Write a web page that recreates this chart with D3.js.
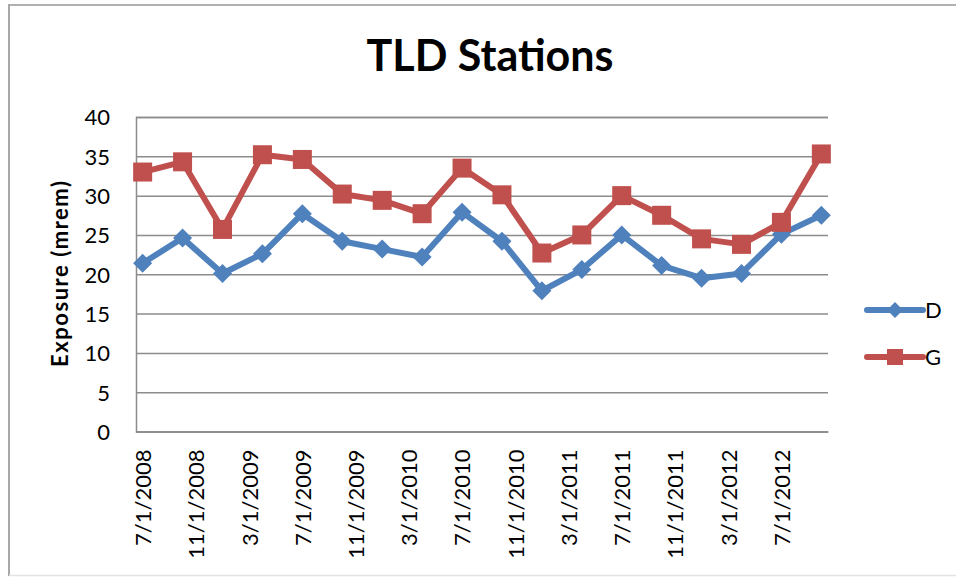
<!DOCTYPE html>
<html>
<head>
<meta charset="utf-8">
<script src="https://cdn.jsdelivr.net/npm/d3@7"></script>
<style>
  html, body { margin: 0; padding: 0; background: #fff; }
  svg { display: block; }
  text { font-family: Lato, "Open Sans", sans-serif; }
</style>
</head>
<body>
<svg id="chart" width="956" height="577"></svg>
<script>
// ---- data ----
const dates = ["7/1/2008","10/1/2008","1/1/2009","4/1/2009","7/1/2009","10/1/2009",
  "1/1/2010","4/1/2010","7/1/2010","10/1/2010","1/1/2011","4/1/2011",
  "7/1/2011","10/1/2011","1/1/2012","4/1/2012","7/1/2012","10/1/2012"];
const seriesD = [21.4,24.6,20.1,22.6,27.7,24.2,23.2,22.2,27.9,24.2,17.9,20.6,25.0,21.1,19.5,20.1,25.1,27.5];
const seriesG = [33.0,34.3,25.7,35.2,34.6,30.2,29.4,27.7,33.5,30.1,22.7,25.0,30.0,27.5,24.5,23.8,26.6,35.3];
const xTickLabels = ["7/1/2008","11/1/2008","3/1/2009","7/1/2009","11/1/2009","3/1/2010",
  "7/1/2010","11/1/2010","3/1/2011","7/1/2011","11/1/2011","3/1/2012","7/1/2012"];
const yTicks = [0,5,10,15,20,25,30,35,40];
const seriesNames = ["D","G"];
const title = "TLD Stations";
const yTitle = "Exposure (mrem)";

// ---- layout ----
const svg = d3.select("#chart");
const plot = {left: 136, right: 828, top: 117, bottom: 431.5};
const colors = {D: "#4F81BD", G: "#C0504D"};

const parse = d3.timeParse("%-m/%-d/%Y");
const start = parse(dates[0]);
const monthIndex = d => d3.timeMonth.count(start, parse(d));
const lastIdx = monthIndex(dates[dates.length - 1]);

const x = d3.scaleLinear().domain([-0.5, lastIdx + 0.5]).range([plot.left, plot.right]);
const y = d3.scaleLinear().domain([0, 40]).range([plot.bottom, plot.top]);

// outer border
svg.append("line").attr("x1", 9).attr("x2", 956).attr("y1", 5).attr("y2", 5)
  .attr("stroke", "#b0b0b0").attr("stroke-width", 2);
svg.append("line").attr("x1", 9).attr("x2", 9).attr("y1", 4).attr("y2", 576)
  .attr("stroke", "#a8a8a8").attr("stroke-width", 2);
svg.append("line").attr("x1", 9).attr("x2", 956).attr("y1", 575.5).attr("y2", 575.5)
  .attr("stroke", "#e2e2e2").attr("stroke-width", 1.5);

// title
svg.append("text").attr("x", 490).attr("y", 71).attr("text-anchor", "middle")
  .attr("font-size", 43).attr("font-weight", "bold").attr("fill", "#000").text(title);

// gridlines + y axis
const yAxis = d3.axisLeft(y).tickValues(yTicks).tickSize(-(plot.right - plot.left)).tickPadding(26);
const gy = svg.append("g").attr("transform", `translate(${plot.left},0)`).call(yAxis);
gy.select(".domain").attr("stroke", "#8c8c8c").attr("stroke-width", 1.5);
gy.selectAll(".tick line").attr("stroke", "#8c8c8c").attr("stroke-width", 1.5);
gy.selectAll(".tick text").attr("font-size", 22).attr("fill", "#000")
  .attr("font-family", "Lato, 'Open Sans', sans-serif").attr("dy", "0.36em")
  .attr("x", 110 - plot.left);

// x axis
const xAxis = d3.axisBottom(x).tickValues(xTickLabels.map(monthIndex))
  .tickFormat((d, i) => xTickLabels[i]).tickSize(0).tickSizeOuter(0);
const gx = svg.append("g").attr("transform", `translate(0,${plot.bottom})`).call(xAxis);
gx.select(".domain").attr("stroke", "#8c8c8c").attr("stroke-width", 1.5);
gx.selectAll(".tick text").attr("font-size", 22).attr("fill", "#000")
  .attr("font-family", "Lato, 'Open Sans', sans-serif")
  .attr("text-anchor", "end").attr("transform", "rotate(-90)")
  .attr("x", -18).attr("y", 0).attr("dy", "0.36em");

// y title
svg.append("text").attr("transform", `translate(68,274) rotate(-90)`)
  .attr("text-anchor", "middle").attr("font-size", 22).attr("font-weight", "bold")
  .attr("textLength", 186).attr("lengthAdjust", "spacing")
  .attr("fill", "#000").text(yTitle);

// lines
const line = d3.line().x((d, i) => x(monthIndex(dates[i]))).y(d => y(d));
const all = {D: seriesD, G: seriesG};
const diamond = s => `M0,${-s}L${s},0L0,${s}L${-s},0Z`;

seriesNames.forEach(name => {
  svg.append("path").datum(all[name]).attr("d", line).attr("fill", "none")
    .attr("stroke", colors[name]).attr("stroke-width", 6).attr("stroke-linejoin", "round");
});
// markers: D diamonds, G squares
svg.append("g").selectAll("path").data(seriesD).join("path")
  .attr("transform", (d, i) => `translate(${x(monthIndex(dates[i]))},${y(d)})`)
  .attr("d", diamond(9.5)).attr("fill", colors.D);
svg.append("g").selectAll("rect").data(seriesG).join("rect")
  .attr("x", (d, i) => x(monthIndex(dates[i])) - 9.5).attr("y", d => y(d) - 9.5)
  .attr("width", 19).attr("height", 19).attr("fill", colors.G);

// legend
const leg = svg.append("g");
seriesNames.forEach((name, i) => {
  const ly = 310 + i * 47;
  leg.append("line").attr("x1", 867).attr("x2", 923).attr("y1", ly).attr("y2", ly)
    .attr("stroke", colors[name]).attr("stroke-width", 6).attr("stroke-linecap", "round");
  if (name === "D") {
    leg.append("path").attr("transform", `translate(895,${ly})`).attr("d", diamond(8)).attr("fill", colors[name]);
  } else {
    leg.append("rect").attr("x", 887).attr("y", ly - 8).attr("width", 16).attr("height", 16).attr("fill", colors[name]);
  }
  leg.append("text").attr("x", 925).attr("y", ly).attr("dy", "0.36em")
    .attr("font-size", 22).attr("fill", "#000").text(name);
});
</script>
</body>
</html>
